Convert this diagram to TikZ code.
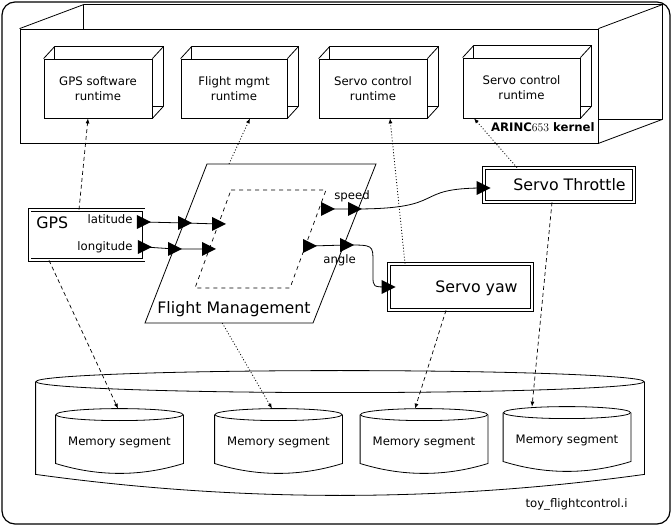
\documentclass[tikz,border=0pt]{standalone}
\usepackage{fontspec}
\setsansfont{DejaVu Sans}
\usetikzlibrary{calc,arrows.meta}
\newcommand{\cubeedges}[3]{%
  \draw (#1.north west) -- ++(#2,#3) -- ([shift={(#2,#3)}]#1.north east) -- ([shift={(#2,#3)}]#1.south east) -- (#1.south east);
  \draw (#1.north east) -- ++(#2,#3);
  \draw ([shift={(#2,#3)}]#1.north west) -- ([xshift=#2]#1.north west);
  \draw ([yshift=#3]#1.south east) -- ++(#2,0pt);
}
\newcommand{\drum}[4]{%
  \draw ([yshift=-#3pt]#1.north west) -- ([yshift=3*#4pt]#1.south west)
    .. controls ($(#1.south west)!1/3!(#1.south east)+(0pt,-#4pt)$) and ($(#1.south west)!2/3!(#1.south east)+(0pt,-#4pt)$)
    .. ([yshift=3*#4pt]#1.south east) -- ([yshift=-#3pt]#1.north east);
  \draw ([yshift=-#3pt]#1.north) ellipse [x radius=#2pt, y radius=#3pt];
}

\begin{document}
\begin{tikzpicture}[x=1pt,y=-1pt,line width=0.8pt,
    every node/.style={font=\sffamily\fontsize{11.7}{15}\selectfont, inner sep=0pt},
    runtime/.style={draw, align=center, minimum height=59pt},
    sysbox/.style={draw, double, double distance=2pt, line width=0.7pt, fill=white},
    bigtxt/.style={font=\sffamily\fontsize{15.8}{18}\selectfont},
    memseg/.style={minimum width=127pt, minimum height=64pt, text height=11pt, text depth=2.5pt},
    dashdep/.style={line width=0.7pt, dash pattern=on 4pt off 3pt, -{Latex[length=5pt,width=4pt]}},
    dotdep/.style={line width=0.8pt, dash pattern=on 1pt off 2pt, -{Latex[length=5pt,width=4pt]}},
    port/.pic={\fill (-7,-7) -- (7,0) -- (-7,7) -- cycle;}]
  \useasboundingbox (0,0) rectangle (672,526);
  \draw[line width=1.2pt, rounded corners=13pt] (2,2) rectangle (670,524);

  % kernel and partitions
  \node (kernel) [draw, minimum width=578pt, minimum height=114pt] at (309,86) {};
  \cubeedges{kernel}{64pt}{24pt}
  \node (kernlbl) [anchor=base east, font=\sffamily\bfseries\fontsize{11.7}{14}\selectfont] at (595,132) {ARINC{\rmfamily\mdseries 653} kernel};
  \node (gpsrt) [runtime, minimum width=108pt] at (98,88.5) {GPS software\\runtime};
  \node (fmrt) [runtime, minimum width=106pt] at (234,88.5) {Flight mgmt\\runtime};
  \node (srvrt) [runtime, minimum width=108pt] at (373,88.5) {Servo control\\runtime};
  \node (thrrt) [runtime, minimum width=117pt, minimum height=60pt] at (521.5,88) {Servo control\\runtime};
  \foreach \n in {gpsrt,fmrt,srvrt,thrrt} {\cubeedges{\n}{11pt}{12pt}}

  % systems
  \node (gps) [sysbox, minimum width=114pt, minimum height=50pt] at (86.5,235) {};
  \node (gpslbl) [bigtxt, anchor=base west] at (36,228.5) {GPS};
  \node (latlbl) [anchor=base east] at (133,224) {latitude};
  \node (lonlbl) [anchor=base east] at (133,250.5) {longitude};
  \node (thr) [sysbox, minimum width=150pt, minimum height=34pt] at (559,185) {};
  \node (thrlbl) [bigtxt, anchor=base west] at (513,190.5) {Servo Throttle};
  \node (yaw) [sysbox, minimum width=143pt, minimum height=46pt] at (460.5,287) {};
  \node (yawlbl) [bigtxt, anchor=base west] at (435,292.5) {Servo yaw};

  \draw (207,164) coordinate (fmA) -- (376,164) coordinate (fmB) -- (313,323) coordinate (fmC) -- (145,323) coordinate (fmD) -- cycle;
  \draw[line width=0.7pt, dash pattern=on 4pt off 4pt] (231,190) coordinate (prA) -- (326,190) coordinate (prB) -- (290,288) coordinate (prC) -- (195,288) coordinate (prD) -- cycle;
  \node (fmlbl) [bigtxt, anchor=base west] at (157,314) {Flight Management};
  \node (splbl) [anchor=base west] at (334,200) {speed};
  \node (anlbl) [anchor=base west] at (323,263.5) {angle};

  % memory
  \node (ram) [minimum width=608pt, minimum height=124pt] at (340,433) {};
  \drum{ram}{304}{11}{7}
  \node (mem1) [memseg] at (119.5,441) {Memory segment};
  \node (mem2) [memseg] at (278.5,441) {Memory segment};
  \node (mem3) [memseg] at (424,441) {Memory segment};
  \node (mem4) [memseg] at (567,439) {Memory segment};
  \foreach \n in {mem1,mem2,mem3,mem4} {\drum{\n}{63.5}{6}{3.3}}
  \node (filelbl) [anchor=base east] at (628,507) {toy\_flightcontrol.i};

  % bindings
  \coordinate (fmtop) at ($(fmA)!0.13!(fmB)$);
  \coordinate (fmbot) at ($(fmD)!0.46!(fmC)$);
  \draw[dashdep] ([xshift=-7.5pt]gps.north) -- ([xshift=-10pt]gpsrt.south);
  \draw[dotdep] (fmtop) -- ([xshift=16pt]fmrt.south);
  \draw[dotdep] ([xshift=-55.5pt]yaw.north) -- ([xshift=17pt]srvrt.south);
  \draw[dotdep] ([xshift=-42pt]thr.north) -- ([xshift=-47.5pt]thrrt.south);
  \draw[dashdep] ([xshift=-37.5pt]gps.south) -- ([xshift=-1.5pt]mem1.north);
  \draw[dotdep] (fmbot) -- ([xshift=-6.5pt]mem2.north);
  \draw[dashdep] ([xshift=-14.5pt]yaw.south) -- ([xshift=-9pt]mem3.north);
  \draw[dashdep] ([xshift=-7pt]thr.south) -- ([xshift=-35pt]mem4.north);

  % ports and connections
  \coordinate (lat0) at ([yshift=13pt]gps.east);
  \coordinate (lon0) at ([shift={(1pt,-12pt)}]gps.east);
  \coordinate (lat1) at (185,223);
  \coordinate (lat2) at (219,224);
  \coordinate (lon1) at (175,249);
  \coordinate (lon2) at (209,249);
  \coordinate (sp0) at (328,209);
  \coordinate (sp1) at (355,209);
  \coordinate (an0) at (310,246);
  \coordinate (an1) at (347,245);
  \coordinate (thrin) at ([yshift=-3pt]thr.west);
  \coordinate (yawin) at (yaw.west);
  \draw (lat0) -- (lat1) -- (lat2);
  \draw (lon0) -- (lon1) -- (lon2);
  \draw (sp0) -- (sp1) .. controls (450,209) and (410,188) .. (thrin);
  \draw (an0) -- (an1) .. controls (373,245) .. (373,262) -- (373,276) .. controls (373,287) .. (yawin);
  \foreach \p in {lat0,lat1,lat2,lon0,lon1,lon2,sp0,sp1,an0,an1,thrin,yawin} \pic at (\p) {port};
\end{tikzpicture}
\end{document}
